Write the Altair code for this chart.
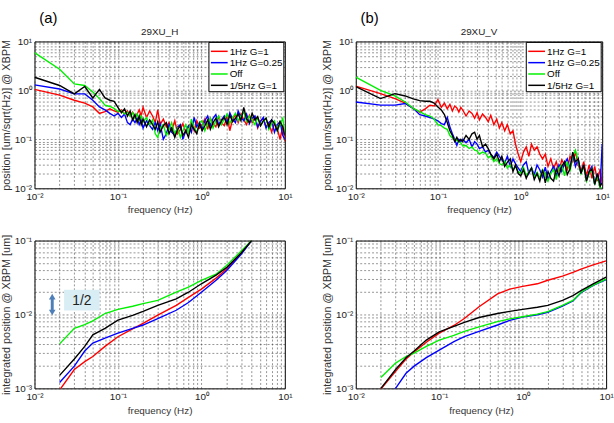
import altair as alt
import pandas as pd

FONT = "Liberation Sans"

series_names = ["1Hz G=1", "1Hz G=0.25", "Off", "1/5Hz G=1"]
series_colors = ["#ff0000", "#0000ff", "#00f000", "#000000"]

# ---- spectra (top row) ----
freq_psd = [0.01, 0.02, 0.03, 0.04, 0.05, 0.06, 0.07, 0.08, 0.09, 0.10,
            0.11, 0.12, 0.13, 0.14, 0.15, 0.16, 0.17, 0.18, 0.19, 0.20,
            0.22, 0.24, 0.26, 0.28, 0.30, 0.32, 0.35, 0.38, 0.41, 0.44,
            0.48, 0.52, 0.56, 0.60, 0.65, 0.70, 0.76, 0.82, 0.88, 0.95,
            1.02, 1.10, 1.19, 1.28, 1.38, 1.49, 1.61, 1.74, 1.88, 2.03,
            2.19, 2.37, 2.56, 2.76, 2.98, 3.22, 3.48, 3.76, 4.06, 4.38,
            4.73, 5.11, 5.52, 5.96, 6.44, 6.95, 7.51, 8.11, 8.76, 9.46,
            10.0]

psd_h_red = [1.05, 0.80, 0.63, 0.55, 0.46, 0.34, 0.37, 0.42, 0.38, 0.36,
             0.40, 0.33, 0.38, 0.30, 0.36, 0.28, 0.33, 0.40, 0.30, 0.45,
             0.28, 0.38, 0.30, 0.22, 0.40, 0.20, 0.26, 0.18, 0.22, 0.15,
             0.24, 0.13, 0.16, 0.21, 0.14, 0.18, 0.22, 0.15, 0.24, 0.17,
             0.20, 0.26, 0.16, 0.27, 0.21, 0.18, 0.29, 0.22, 0.19, 0.30,
             0.15, 0.26, 0.32, 0.22, 0.33, 0.25, 0.20, 0.31, 0.22, 0.28,
             0.17, 0.24, 0.27, 0.18, 0.22, 0.14, 0.21, 0.17, 0.10, 0.19,
             0.09]
psd_h_blue = [1.30, 1.07, 0.85, 0.85, 0.63, 0.46, 0.40, 0.34, 0.30, 0.34,
              0.28, 0.33, 0.22, 0.20, 0.26, 0.22, 0.27, 0.20, 0.25, 0.17,
              0.24, 0.19, 0.16, 0.22, 0.15, 0.21, 0.10, 0.13, 0.20, 0.14,
              0.12, 0.18, 0.20, 0.10, 0.15, 0.19, 0.14, 0.28, 0.18, 0.22,
              0.16, 0.24, 0.30, 0.19, 0.27, 0.32, 0.20, 0.25, 0.30, 0.22,
              0.35, 0.26, 0.22, 0.38, 0.28, 0.24, 0.33, 0.21, 0.27, 0.30,
              0.18, 0.23, 0.28, 0.17, 0.22, 0.25, 0.14, 0.20, 0.23, 0.12,
              0.10]
psd_h_off = [5.9, 2.7, 1.36, 1.26, 0.93, 0.68, 0.50, 0.47, 0.43, 0.37,
             0.38, 0.33, 0.36, 0.30, 0.35, 0.27, 0.33, 0.25, 0.30, 0.23,
             0.28, 0.20, 0.25, 0.13, 0.11, 0.17, 0.20, 0.12, 0.16, 0.22,
             0.13, 0.17, 0.11, 0.15, 0.20, 0.13, 0.26, 0.17, 0.14, 0.22,
             0.24, 0.15, 0.21, 0.27, 0.17, 0.24, 0.30, 0.20, 0.26, 0.33,
             0.21, 0.28, 0.34, 0.24, 0.30, 0.36, 0.23, 0.30, 0.25, 0.20,
             0.28, 0.19, 0.23, 0.27, 0.16, 0.21, 0.24, 0.15, 0.20, 0.27,
             0.13]
psd_h_fifth = [1.86, 1.26, 0.85, 1.20, 0.70, 1.05, 0.70, 0.63, 0.60, 0.45,
               0.35, 0.42, 0.30, 0.38, 0.25, 0.32, 0.22, 0.30, 0.20, 0.26,
               0.18, 0.25, 0.20, 0.16, 0.23, 0.14, 0.19, 0.22, 0.13, 0.17,
               0.11, 0.16, 0.19, 0.12, 0.15, 0.11, 0.20, 0.16, 0.13, 0.21,
               0.15, 0.19, 0.25, 0.16, 0.22, 0.27, 0.18, 0.24, 0.28, 0.20,
               0.31, 0.23, 0.27, 0.33, 0.24, 0.45, 0.26, 0.22, 0.34, 0.25,
               0.29, 0.19, 0.24, 0.27, 0.18, 0.25, 0.21, 0.15, 0.23, 0.18,
               0.12]

psd_v_red = [1.22, 0.86, 0.68, 0.55, 0.43, 0.36, 0.42, 0.50, 0.48, 0.65,
             0.45, 0.55, 0.42, 0.52, 0.38, 0.48, 0.44, 0.36, 0.45, 0.40,
             0.30, 0.38, 0.34, 0.27, 0.35, 0.25, 0.33, 0.28, 0.23, 0.31,
             0.20, 0.26, 0.17, 0.22, 0.15, 0.20, 0.13, 0.15, 0.08, 0.05,
             0.035, 0.055, 0.07, 0.045, 0.08, 0.06, 0.07, 0.05, 0.04, 0.05,
             0.028, 0.04, 0.025, 0.035, 0.022, 0.038, 0.03, 0.024, 0.045, 0.035,
             0.055, 0.03, 0.022, 0.035, 0.018, 0.03, 0.016, 0.028, 0.014, 0.025,
             0.012]
psd_v_blue = [0.58, 0.50, 0.50, 0.54, 0.43, 0.32, 0.30, 0.28, 0.26, 0.24,
              0.21, 0.20, 0.28, 0.18, 0.13, 0.10, 0.075, 0.10, 0.09, 0.10,
              0.085, 0.10, 0.07, 0.09, 0.08, 0.065, 0.07, 0.055, 0.06, 0.05,
              0.042, 0.055, 0.045, 0.038, 0.033, 0.045, 0.028, 0.04, 0.032, 0.026,
              0.022, 0.03, 0.035, 0.02, 0.026, 0.019, 0.03, 0.024, 0.017, 0.027,
              0.015, 0.022, 0.028, 0.018, 0.03, 0.022, 0.032, 0.04, 0.025, 0.05,
              0.028, 0.04, 0.02, 0.03, 0.015, 0.022, 0.028, 0.012, 0.02, 0.011,
              0.08]
psd_v_off = [1.86, 1.0, 0.77, 0.58, 0.43, 0.37, 0.32, 0.30, 0.26, 0.20,
             0.19, 0.17, 0.16, 0.12, 0.107, 0.10, 0.095, 0.09, 0.085, 0.074,
             0.075, 0.065, 0.07, 0.06, 0.058, 0.05, 0.055, 0.052, 0.042, 0.046,
             0.035, 0.04, 0.032, 0.03, 0.036, 0.026, 0.03, 0.024, 0.028, 0.022,
             0.02, 0.027, 0.018, 0.022, 0.026, 0.017, 0.021, 0.016, 0.024, 0.019,
             0.014, 0.02, 0.024, 0.015, 0.026, 0.03, 0.018, 0.035, 0.022, 0.045,
             0.06, 0.035, 0.02, 0.028, 0.014, 0.02, 0.025, 0.012, 0.018, 0.01,
             0.01]
psd_v_fifth = [1.20, 0.68, 0.86, 0.77, 0.67, 0.62, 0.60, 0.60, 0.55, 0.46,
               0.40, 0.32, 0.22, 0.15, 0.12, 0.09, 0.11, 0.09, 0.10, 0.09,
               0.12, 0.10, 0.13, 0.14, 0.10, 0.12, 0.07, 0.08, 0.065, 0.05,
               0.04, 0.05, 0.035, 0.045, 0.028, 0.034, 0.04, 0.022, 0.03, 0.02,
               0.018, 0.024, 0.016, 0.021, 0.026, 0.015, 0.02, 0.014, 0.024, 0.013,
               0.022, 0.016, 0.014, 0.025, 0.018, 0.028, 0.035, 0.019, 0.025, 0.055,
               0.035, 0.04, 0.02, 0.03, 0.014, 0.022, 0.025, 0.012, 0.02, 0.011,
               0.013]

# ---- integrated position (bottom row) ----
freq_int_h = [0.02, 0.03, 0.04, 0.05, 0.07, 0.1, 0.15, 0.2, 0.3, 0.5,
              0.7, 1, 1.5, 2, 3, 4]
int_h_red = [0.00095, 0.0018, 0.0023, 0.0027, 0.0037, 0.005, 0.0064, 0.0076,
             0.0098, 0.0133, 0.017, 0.022, 0.031, 0.041, 0.068, 0.1]
int_h_blue = [0.0012, 0.002, 0.0032, 0.0041, 0.0048, 0.0056, 0.0065, 0.0072,
              0.0088, 0.0114, 0.0145, 0.020, 0.029, 0.039, 0.065, 0.1]
int_h_off = [0.0040, 0.0065, 0.0073, 0.0082, 0.0103, 0.0117, 0.0129, 0.014,
             0.0155, 0.020, 0.0234, 0.029, 0.035, 0.046, 0.072, 0.1]
int_h_fifth = [0.0015, 0.0025, 0.0037, 0.0053, 0.0065, 0.0084, 0.0097, 0.011,
               0.0133, 0.0163, 0.020, 0.026, 0.034, 0.043, 0.068, 0.1]

freq_int_v = [0.02, 0.03, 0.04, 0.05, 0.07, 0.1, 0.15, 0.2, 0.3, 0.5,
              0.7, 1, 1.5, 2, 3, 4, 5, 7, 10]
int_v_red = [0.00098, 0.0017, 0.0025, 0.0031, 0.0042, 0.0056, 0.0071, 0.0088,
             0.0127, 0.019, 0.022, 0.024, 0.026, 0.029, 0.033, 0.037, 0.041, 0.047, 0.053]
int_v_blue = [0.0007, 0.001, 0.0016, 0.002, 0.0026, 0.0033, 0.0043, 0.005,
              0.0059, 0.0072, 0.0083, 0.0092, 0.0099, 0.0107, 0.013, 0.0152, 0.0197, 0.0247, 0.0297]
int_v_off = [0.0014, 0.0022, 0.0027, 0.003, 0.0037, 0.0045, 0.0052, 0.0059,
             0.0068, 0.008, 0.0087, 0.0093, 0.0101, 0.0109, 0.0133, 0.0155, 0.02, 0.025, 0.030]
int_v_fifth = [0.001, 0.0018, 0.0026, 0.0032, 0.0045, 0.0058, 0.0069, 0.0078,
               0.0091, 0.0103, 0.011, 0.0117, 0.0125, 0.0133, 0.0155, 0.018, 0.021, 0.026, 0.032]

x_grid = [0.01, 0.02, 0.03, 0.04, 0.05, 0.06, 0.07, 0.08, 0.09,
          0.1, 0.2, 0.3, 0.4, 0.5, 0.6, 0.7, 0.8, 0.9,
          1, 2, 3, 4, 5, 6, 7, 8, 9, 10]
y_grid_top = x_grid
y_grid_bot = [0.001, 0.002, 0.003, 0.004, 0.005, 0.006, 0.007, 0.008, 0.009,
              0.01, 0.02, 0.03, 0.04, 0.05, 0.06, 0.07, 0.08, 0.09, 0.1]

LBL = ("datum.value==0.001?'10⁻³':datum.value==0.01?'10⁻²':datum.value==0.1?'10⁻¹':"
       "datum.value==1?'10⁰':datum.value==10?'10¹':''")


def long_df(freqs, vals_list):
    rows = []
    for k, (name, vals) in enumerate(zip(series_names, vals_list)):
        for i, (f, v) in enumerate(zip(freqs, vals)):
            rows.append({"f": f, "v": v, "s": name, "k": k, "i": i})
    return pd.DataFrame(rows)


one_row = pd.DataFrame({"t": ["1/2"]})


def legend_layers(w):
    bx0, bx1, by0, by1 = w - 77, w - 1, 1, 51
    out = [alt.Chart(one_row).mark_rect(fill="white", stroke="black", strokeWidth=1).encode(
        x=alt.value(bx0), x2=alt.value(bx1), y=alt.value(by0), y2=alt.value(by1))]
    for j, (name, col) in enumerate(zip(series_names, series_colors)):
        yy = 10 + j * 11.5
        out.append(alt.Chart(one_row).mark_rule(color=col, strokeWidth=1.5).encode(
            x=alt.value(bx0 + 2), x2=alt.value(bx0 + 19), y=alt.value(yy)))
        out.append(alt.Chart(one_row).mark_text(font=FONT, fontSize=10, align="left",
                                                baseline="middle", color="black").encode(
            x=alt.value(bx0 + 21), y=alt.value(yy + 0.5), text=alt.value(name)))
    return out


def panel(df, ydom, ygrid, ytitle, w, h, title=None, legend=False, letter=None, extras=()):
    lines = alt.Chart(df).mark_line(strokeWidth=1.4, clip=True).encode(
        x=alt.X("f:Q", scale=alt.Scale(type="log", domain=[0.01, 10], nice=False),
                axis=alt.Axis(values=x_grid, labelExpr=LBL, title="frequency (Hz)")),
        y=alt.Y("v:Q", scale=alt.Scale(type="log", domain=ydom, nice=False),
                axis=alt.Axis(values=ygrid, labelExpr=LBL, title=ytitle)),
        color=alt.Color("s:N", scale=alt.Scale(domain=series_names, range=series_colors),
                        legend=None),
        order="i:Q",
    )
    layers = [lines]
    if letter:
        layers.append(alt.Chart(one_row).mark_text(fontSize=15, font=FONT, color="black").encode(
            x=alt.value(14), y=alt.value(-24), text=alt.value(letter)))
    if title:
        layers.append(alt.Chart(one_row).mark_text(fontSize=10, font=FONT, color="#222").encode(
            x=alt.value(w / 2), y=alt.value(-10), text=alt.value(title)))
    if legend:
        layers.extend(legend_layers(w))
    layers.extend(extras)
    return alt.layer(*layers).properties(width=w, height=h)


df_h = long_df(freq_psd, [psd_h_red, psd_h_blue, psd_h_off, psd_h_fifth])
df_v = long_df(freq_psd, [psd_v_red, psd_v_blue, psd_v_off, psd_v_fifth])
df_ih = long_df(freq_int_h, [int_h_red, int_h_blue, int_h_off, int_h_fifth])
df_iv = long_df(freq_int_v, [int_v_red, int_v_blue, int_v_off, int_v_fifth])

box = alt.Chart(one_row).mark_rect(color="#d9eef4").encode(
    x=alt.value(30), x2=alt.value(66), y=alt.value(50), y2=alt.value(71))
box_txt = alt.Chart(one_row).mark_text(fontSize=14, font=FONT, color="#222").encode(
    x=alt.value(48), y=alt.value(61), text="t:N")
arrow_shaft = alt.Chart(one_row).mark_rule(color="#4f7fb8", strokeWidth=3).encode(
    x=alt.value(18), y=alt.value(58), y2=alt.value(72))
arrow_up = alt.Chart(one_row).mark_point(shape="triangle-up", filled=True, size=45,
                                         color="#4f7fb8", opacity=1).encode(
    x=alt.value(18), y=alt.value(57))
arrow_dn = alt.Chart(one_row).mark_point(shape="triangle-down", filled=True, size=45,
                                         color="#4f7fb8", opacity=1).encode(
    x=alt.value(18), y=alt.value(73))

psd_title = "position [um/sqrt(Hz)] @ XBPM"
int_title = "integrated position @ XBPM [um]"

p_a = panel(df_h, [0.01, 10], y_grid_top, psd_title, 254, 149, title="29XU_H",
            legend=True, letter="(a)")
p_b = panel(df_v, [0.01, 10], y_grid_top, psd_title, 250, 149, title="29XU_V",
            legend=True, letter="(b)")
p_c = panel(df_ih, [0.001, 0.1], y_grid_bot, int_title, 254, 150,
            extras=(box, arrow_shaft, arrow_up, arrow_dn, box_txt))
p_d = panel(df_iv, [0.001, 0.1], y_grid_bot, int_title, 254, 150)

chart = alt.concat(p_a, p_b, p_c, p_d, columns=2, spacing={"row": 53, "column": 72},
                   bounds="flush").properties(
    padding={"left": 0, "top": 7, "right": 0, "bottom": 0},
    background="white",
).configure_view(stroke="black", strokeWidth=1).configure_axis(
    grid=True, gridColor="#333", gridDash=[2, 2], gridOpacity=0.75, gridWidth=0.7,
    ticks=False, domain=False, labelFont=FONT, labelFontSize=10, labelColor="#222",
    labelPadding=3, titleFont=FONT, titleFontSize=10, titleFontWeight="normal",
    titleColor="#333", labelFlush=False, labelOverlap=False,
).configure_axisY(titlePadding=3, titleFontSize=11).configure_axisX(titlePadding=4)

chart.save("out.html", embed_options={"renderer": "svg", "actions": False})
